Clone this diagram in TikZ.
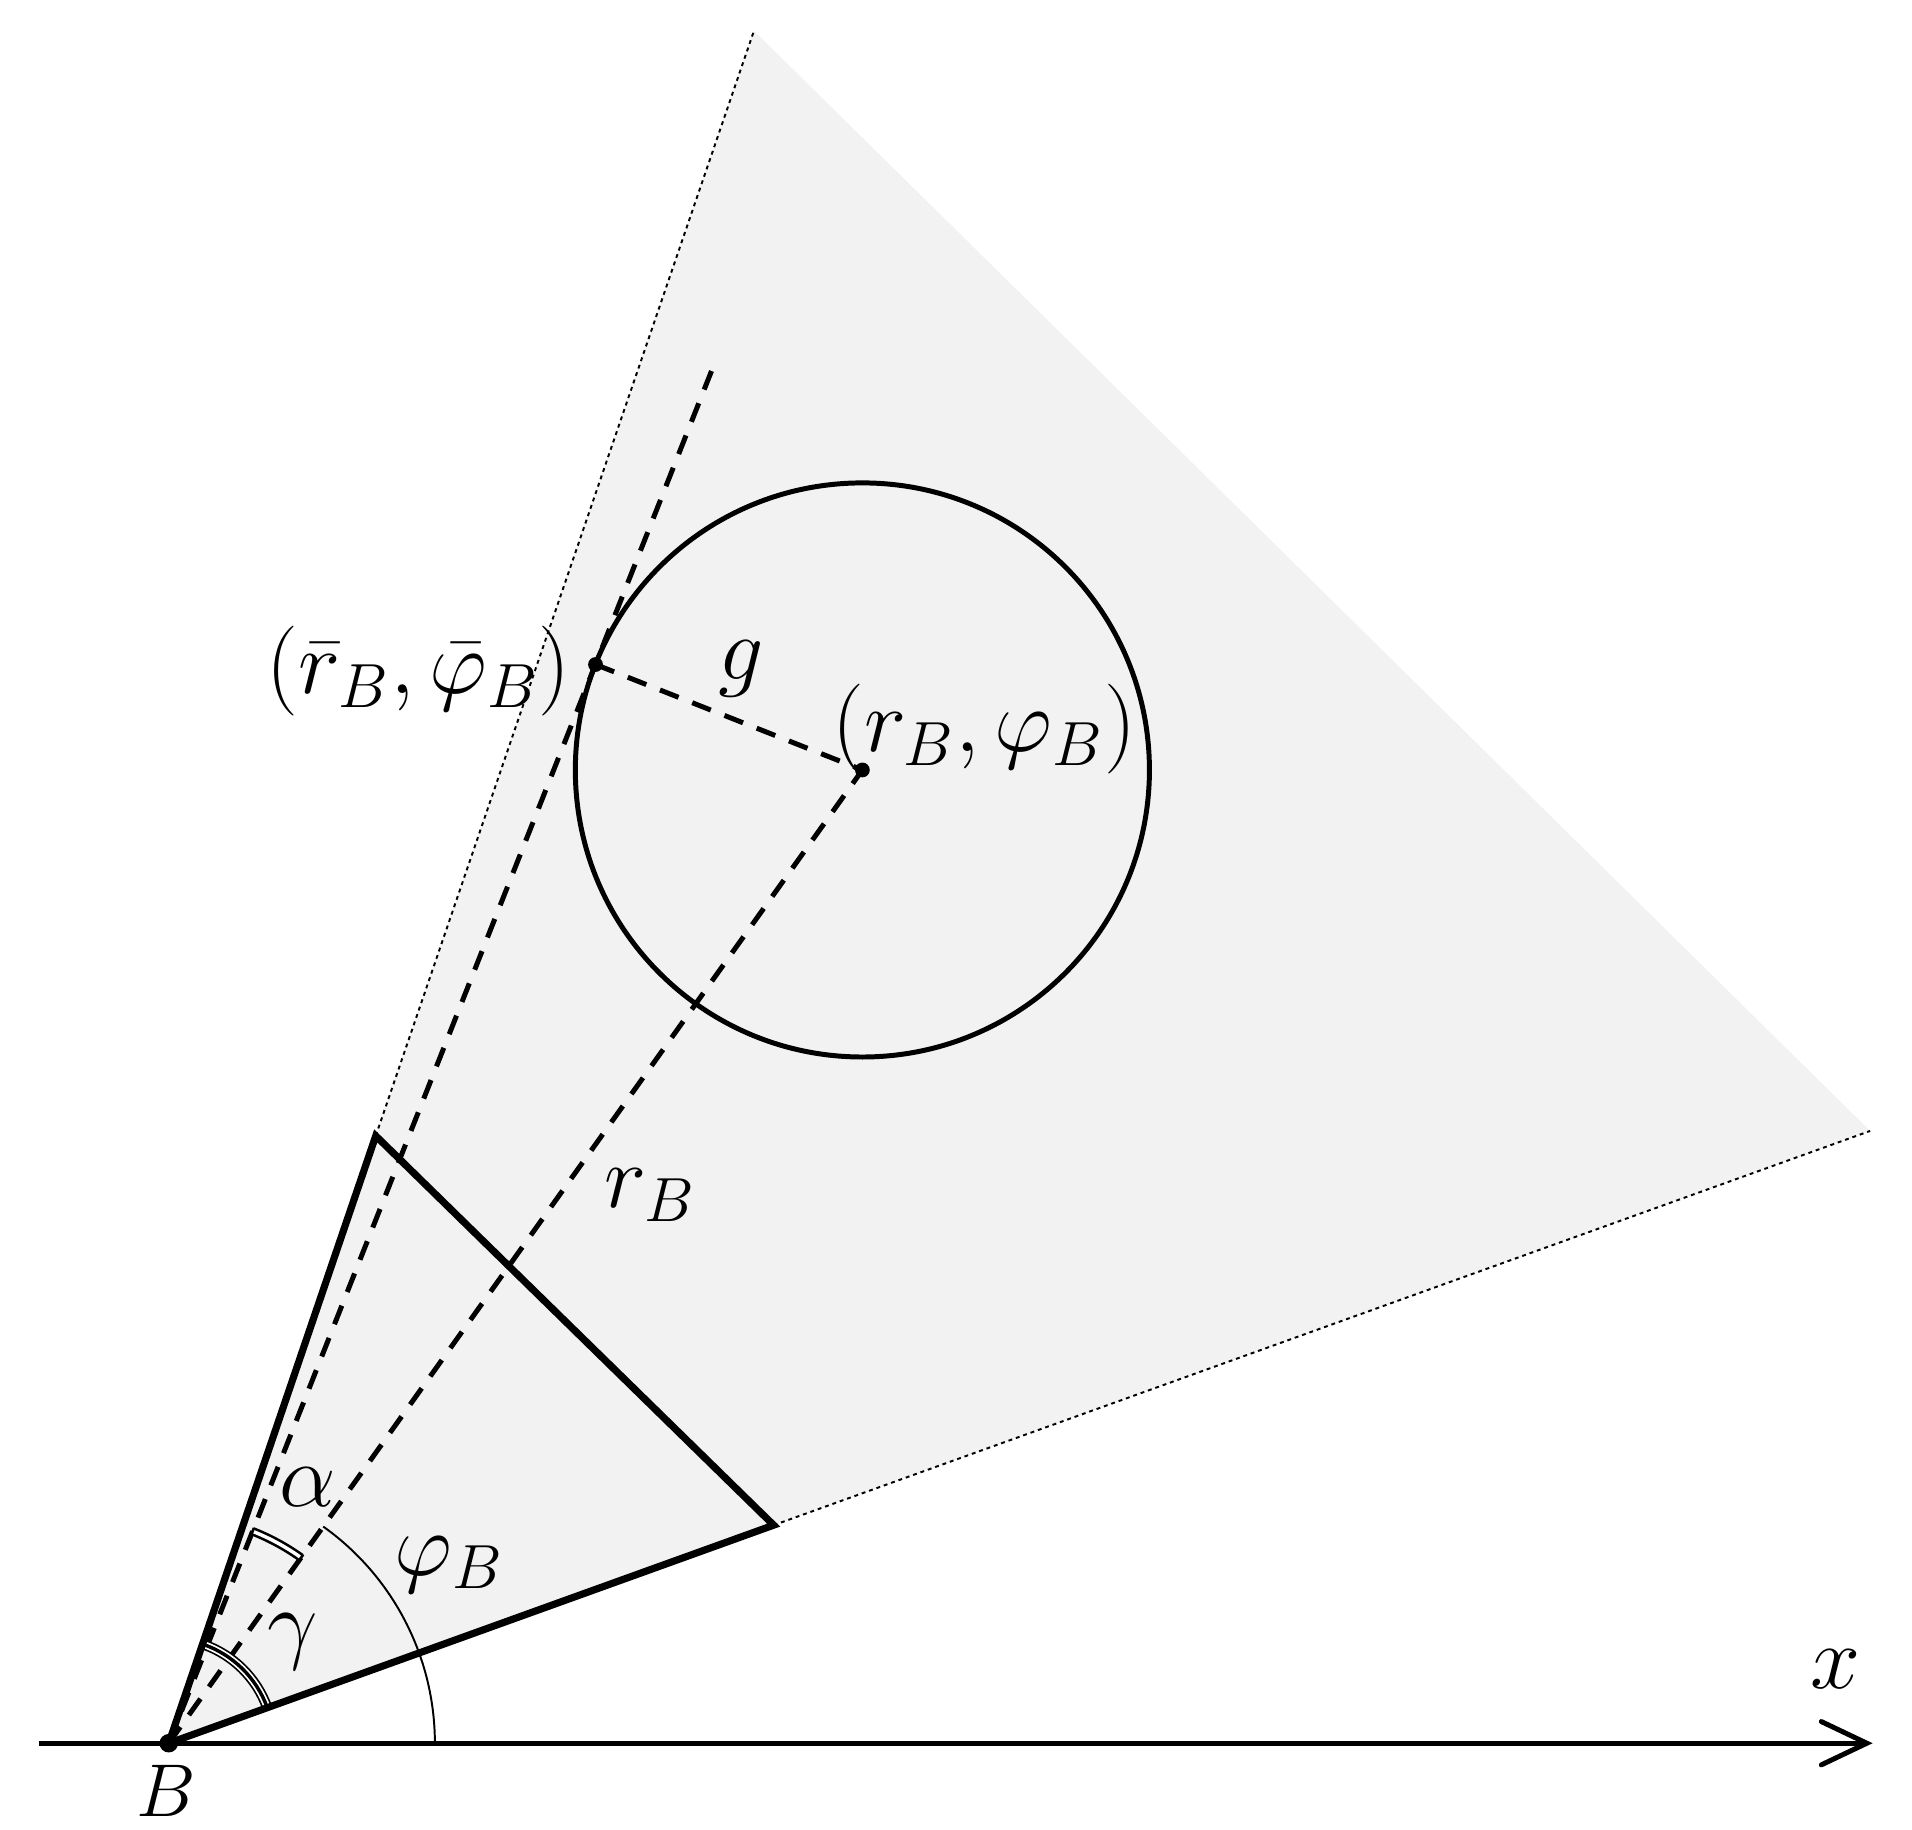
\documentclass[tikz,border=0pt]{standalone}
\usetikzlibrary{arrows.meta}
\definecolor{fillgray}{HTML}{F2F2F2}
\begin{document}
\begin{tikzpicture}[x=0.01cm,y=0.01cm,
  thickedge/.style={line width=1.65pt, line join=miter},
  dashline/.style={line width=1.15pt, dash pattern=on 4.6pt off 3.4pt},
  dotline/.style={line width=0.45pt, dash pattern=on 0.9pt off 0.9pt},
  thinarc/.style={line width=0.45pt},
  lbl/.style={font=\fontsize{20}{24}\selectfont, inner sep=0pt},
  dotpt/.style={circle, fill=black, inner sep=0pt, minimum size=0.12cm}]
\useasboundingbox (0,0) rectangle (1552,1485);
% key points
\coordinate (B) at (137,70);
\coordinate (ax0) at (32,70);
\coordinate (ax1) at (1520,70);
\coordinate (P1) at (305,563);
\coordinate (P2) at (628,247);
\coordinate (T1) at (612,1460);
\coordinate (T2) at (1518,567);
\coordinate (C) at (700,860);
\coordinate (Q) at (483.4,945.6);
\coordinate (Tend) at (578,1185);
% shaded sector
\fill[fillgray] (B) -- (P1) -- (T1) -- (T2) -- (P2) -- cycle;
% dotted boundary
\draw[dotline] (P1) -- (T1);
\draw[dotline] (P2) -- (T2);
% circle
\draw[line width=1.15pt] (C) circle[radius=233];
% dashed lines
\draw[dashline] (B) -- (Tend);
\draw[dashline] (B) -- (C);
\draw[dashline] (Q) -- (C);
% phi arc
\draw[thinarc] (B) ++(0:216) arc[start angle=0, end angle=54.52, radius=216];
% alpha arc (double, closed ends)
\draw[line width=0.6pt, double=white, double distance=0.8pt]
  (B) ++(54.52:185) arc[start angle=54.52, end angle=68.42, radius=185];
\draw[line width=0.6pt] (B) ++(54.52:188) -- ++(234.52:16);
\draw[line width=0.6pt] (B) ++(68.42:188) -- ++(248.42:16);
% gamma arc (triple)
\draw[line width=2.4pt] (B) ++(19.82:85) arc[start angle=19.82, end angle=71.18, radius=85];
\draw[line width=1.6pt, white] (B) ++(19.82:85) arc[start angle=19.82, end angle=71.18, radius=85];
\draw[line width=0.8pt] (B) ++(19.82:85) arc[start angle=19.82, end angle=71.18, radius=85];
% thick triangle
\draw[thickedge] (B) -- (P1) -- (P2) -- cycle;
% x axis
\draw[line width=1.15pt, -{Straight Barb[length=10.5pt,width=10pt,line cap=round]}] (ax0) -- (ax1);
% points
\node[dotpt, minimum size=0.15cm] (Bd) at (B) {};
\node[dotpt] (Cd) at (C) {};
\node[dotpt] (Qd) at (Q) {};
% labels
\node[lbl, font=\fontsize{18}{22}\selectfont, anchor=north] (lB) at (135,53) {$B$};
\node[lbl] (lx) at (1490,130) {$x$};
\node[lbl] (la) at (250,278) {$\alpha$};
\node[lbl] (lg) at (238,152) {$\gamma$};
\node[lbl] (lphi) at (365,215) {$\varphi_B$};
\node[lbl] (lr) at (528,515) {$r_B$};
\node[lbl] (lgg) at (602,942) {$g$};
\node[lbl] (lc) at (799,893) {$(r_B,\varphi_B)$};
\node[lbl] (lq) at (340,940) {$(\bar{r}_B,\bar{\varphi}_B)$};
\end{tikzpicture}
\end{document}
